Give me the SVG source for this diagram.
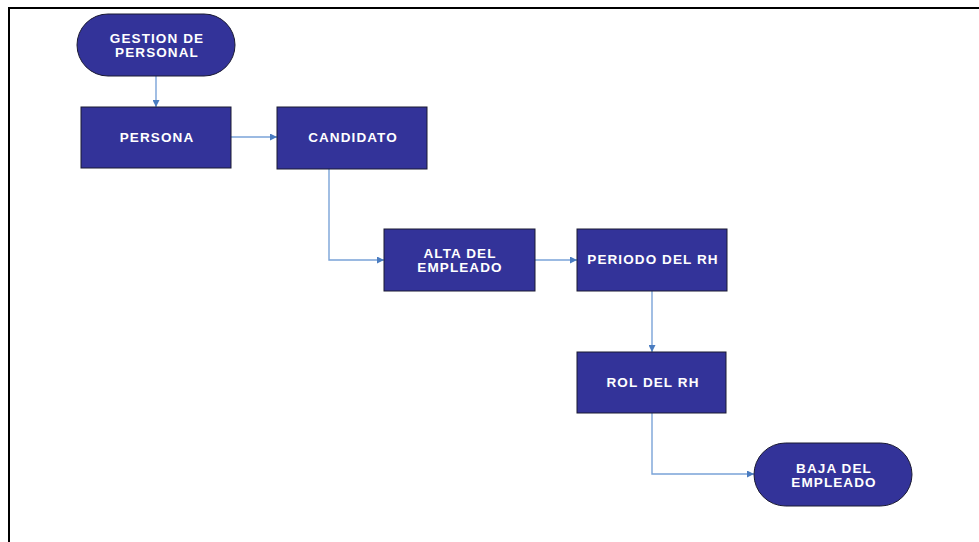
<svg xmlns="http://www.w3.org/2000/svg" width="979" height="542" viewBox="0 0 979 542">
  <style>
    .node { fill: #333399; stroke: #1a1a33; stroke-width: 1; }
    .lbl { fill: #ffffff; font-family: "Liberation Sans", Arial, sans-serif; font-weight: bold; font-size: 13.5px; letter-spacing: 1.1px; text-anchor: middle; }
    .conn { fill: none; stroke: #7aa3d8; stroke-width: 1.4; marker-end: url(#arrow); }
  </style>
  <defs>
    <marker id="arrow" viewBox="0 0 10 10" refX="10" refY="5" markerWidth="8" markerHeight="7" markerUnits="userSpaceOnUse" orient="auto">
      <path d="M0,0 L10,5 L0,10 Z" fill="#4a7cc0"/>
    </marker>
  </defs>
  <rect width="979" height="542" fill="#ffffff"/>
  <!-- page frame -->
  <path d="M9,542 V8 H979" fill="none" stroke="#000000" stroke-width="2"/>

  <g id="connectors">
    <path class="conn" d="M156,76 V107"/>
    <path class="conn" d="M231,137 H277"/>
    <path class="conn" d="M329,169 V260 H384"/>
    <path class="conn" d="M535,260 H577"/>
    <path class="conn" d="M652,291 V352"/>
    <path class="conn" d="M652,413 V474 H754"/>
  </g>

  <g id="gestion-personal">
    <rect class="node" x="77" y="14" width="158" height="62" rx="31" ry="31"/>
    <text class="lbl" x="157" y="43">GESTION DE</text>
    <text class="lbl" x="157" y="56.5">PERSONAL</text>
  </g>
  <g id="persona">
    <rect class="node" x="81" y="107" width="150" height="61"/>
    <text class="lbl" x="157" y="142">PERSONA</text>
  </g>
  <g id="candidato">
    <rect class="node" x="277" y="107" width="150" height="62"/>
    <text class="lbl" x="353" y="142">CANDIDATO</text>
  </g>
  <g id="alta-empleado">
    <rect class="node" x="384" y="229" width="151" height="62"/>
    <text class="lbl" x="460" y="258">ALTA DEL</text>
    <text class="lbl" x="460" y="271.5">EMPLEADO</text>
  </g>
  <g id="periodo-rh">
    <rect class="node" x="577" y="229" width="150" height="62"/>
    <text class="lbl" x="653" y="264">PERIODO DEL RH</text>
  </g>
  <g id="rol-rh">
    <rect class="node" x="577" y="352" width="149" height="61"/>
    <text class="lbl" x="653" y="387">ROL DEL RH</text>
  </g>
  <g id="baja-empleado">
    <rect class="node" x="754" y="443" width="158" height="63" rx="31.5" ry="31.5"/>
    <text class="lbl" x="834" y="473">BAJA DEL</text>
    <text class="lbl" x="834" y="486.5">EMPLEADO</text>
  </g>
</svg>
